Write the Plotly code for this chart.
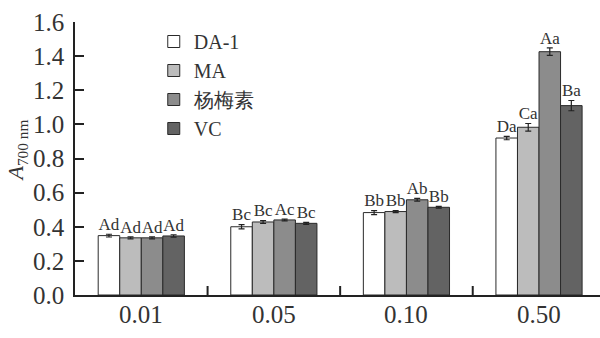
import plotly.graph_objects as go

groups = ["0.01", "0.05", "0.10", "0.50"]
series = ["DA-1", "MA", "杨梅素", "VC"]
values = {
    "DA-1": [0.348, 0.400, 0.483, 0.920],
    "MA":   [0.335, 0.428, 0.489, 0.983],
    "杨梅素": [0.335, 0.440, 0.558, 1.426],
    "VC":   [0.346, 0.420, 0.514, 1.110],
}
errors = {
    "DA-1": [0.008, 0.012, 0.012, 0.010],
    "MA":   [0.006, 0.008, 0.006, 0.022],
    "杨梅素": [0.006, 0.005, 0.008, 0.022],
    "VC":   [0.007, 0.006, 0.005, 0.030],
}
letters = {
    "DA-1": ["Ad", "Bc", "Bb", "Da"],
    "MA":   ["Ad", "Bc", "Bb", "Ca"],
    "杨梅素": ["Ad", "Ac", "Ab", "Aa"],
    "VC":   ["Ad", "Bc", "Bb", "Ba"],
}
colors = {"DA-1": "#ffffff", "MA": "#bcbcbc", "杨梅素": "#8c8c8c", "VC": "#636363"}
y_ticks = [0.0, 0.2, 0.4, 0.6, 0.8, 1.0, 1.2, 1.4, 1.6]

SERIF = "Liberation Serif"
group_frac = 0.65
w = group_frac / len(series)
x_range = [-0.5, 3.46]
group_pos = list(range(len(groups)))
boundaries = [g + 0.5 for g in group_pos[:-1]]

fig = go.Figure()
for i, s in enumerate(series):
    xs = [g + (i - (len(series) - 1) / 2) * w for g in group_pos]
    fig.add_trace(go.Bar(
        x=xs, y=values[s], width=w, name=s,
        marker=dict(color=colors[s], line=dict(color="#2a2a2a", width=1)),
        error_y=dict(type="data", array=errors[s], color="#222", thickness=1.2, width=3),
    ))
for i, s in enumerate(series):
    xs = [g + (i - (len(series) - 1) / 2) * w for g in group_pos]
    fig.add_trace(go.Scatter(
        x=xs, y=[v + e for v, e in zip(values[s], errors[s])],
        mode="text", text=letters[s], textposition="top center",
        textfont=dict(family=SERIF, size=17, color="#333"),
        showlegend=False, hoverinfo="skip", cliponaxis=False,
    ))

annotations = [dict(
    text=g, x=p, xref="x", y=0, yref="paper", xanchor="center", yanchor="top",
    yshift=-4, showarrow=False, font=dict(family=SERIF, size=25, color="#333"),
) for p, g in zip(group_pos, groups)]
annotations.append(dict(
    text="<i>A</i><sub>700 nm</sub>", xref="paper", yref="paper",
    x=-0.11, y=0.53, xanchor="center", yanchor="middle", textangle=-90,
    showarrow=False, font=dict(family=SERIF, size=22, color="#333"),
))

# group-boundary tick marks on the x axis (inside, pointing up)
shapes = [dict(
    type="line", xref="x", yref="paper", x0=b, x1=b, y0=0, y1=0.033,
    line=dict(color="#222", width=2), layer="above",
) for b in boundaries]

fig.update_layout(
    width=600, height=338,
    margin=dict(l=75, r=0, t=22, b=43),
    paper_bgcolor="white", plot_bgcolor="white",
    font=dict(family=SERIF, color="#333"),
    showlegend=True,
    legend=dict(x=0.15, y=1.0, xanchor="left", yanchor="top",
                font=dict(family=SERIF, size=20, color="#333"),
                bgcolor="rgba(0,0,0,0)", tracegroupgap=0),
    xaxis=dict(
        range=x_range, showticklabels=False, ticks="",
        showline=True, linecolor="#222", linewidth=1.5,
        showgrid=False, zeroline=False,
    ),
    yaxis=dict(
        range=[0, 1.6], tickvals=y_ticks, tickformat=".1f",
        ticks="inside", ticklen=9, tickwidth=1.5, tickcolor="#222",
        showline=True, linecolor="#222", linewidth=1.5,
        showgrid=False, zeroline=False, ticklabelstandoff=4,
        tickfont=dict(family=SERIF, size=25, color="#333"),
    ),
    annotations=annotations,
    shapes=shapes,
)

fig.write_html("out.html")
